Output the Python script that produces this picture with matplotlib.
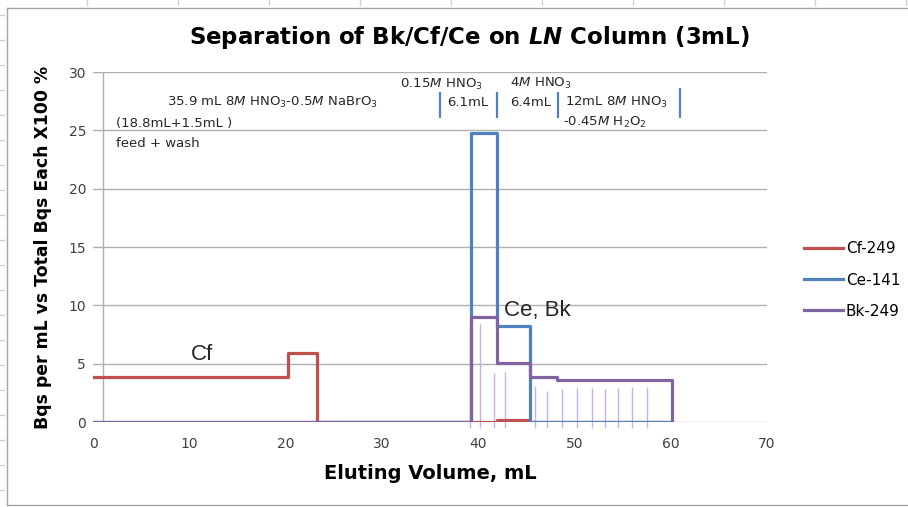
import matplotlib
matplotlib.use("Agg")
import matplotlib.pyplot as plt
from matplotlib.lines import Line2D

plt.rcParams['font.family'] = ['DejaVu Sans']
plt.rcParams['mathtext.fontset'] = 'dejavusans'

# step data (x = start of each step, steps-post)
cf_x = [0, 20.3, 23.3, 42.0, 45.4, 60.1]
cf_y = [3.9, 5.9, 0, 0.15, 0, 0]
ce_x = [0, 39.3, 42.0, 45.4, 60.1]
ce_y = [0, 24.8, 8.2, 0, 0]
bk_x = [0, 39.3, 42.0, 45.4, 48.2, 60.1]
bk_y = [0, 9.0, 5.1, 3.9, 3.6, 0]

# thin Bk bars
bar_x = [39.15, 40.2, 41.6, 42.8, 45.9, 47.2, 48.7, 50.3, 51.8, 53.2, 54.5, 56.0, 57.5]
bar_top = [8.4, 8.4, 4.2, 4.3, 3.1, 2.7, 2.8, 2.9, 2.9, 2.8, 2.9, 3.0, 3.0]

# eluent fraction markers
mark_x = [36.0, 41.95, 48.3, 61.0]
mark_lo = [26.1, 26.1, 26.1, 26.1]
mark_hi = [28.3, 28.3, 28.3, 28.6]

red = '#c0504d'
blue = '#4f81bd'
purple = '#8064a2'
txt = '#262626'

fig = plt.figure(figsize=(9.08, 5.07), dpi=100)
ax = fig.add_axes([93/908, 1-422/507, 674/908, 350/507])

ax.set_xlim(0, 70)
ax.set_ylim(0, 30)
ax.set_yticks(range(0, 31, 5))
ax.set_xticks(range(0, 71, 10))
for s in ax.spines.values():
    s.set_visible(False)
ax.tick_params(length=0, labelsize=10, colors='#404040')
ax.tick_params(axis='x', pad=11)
ax.tick_params(axis='y', pad=5)
for v in range(0, 31, 5):
    ax.axhline(v, color='#b0b0b0', lw=1, zorder=0)
ax.axvline(1.05, color='#b0b0b0', lw=1, zorder=0)

ax.vlines(bar_x, -0.5, bar_top, color='#c8b0e6', lw=1, zorder=2, clip_on=False)

ax.plot(cf_x, cf_y, drawstyle='steps-post', color=red, lw=2.3, label='Cf-249', zorder=3)
ax.plot(ce_x, ce_y, drawstyle='steps-post', color=blue, lw=2.3, label='Ce-141', zorder=4)
ax.plot(bk_x, bk_y, drawstyle='steps-post', color=purple, lw=2.3, label='Bk-249', zorder=5)

ax.vlines(mark_x, mark_lo, mark_hi, color=blue, lw=1.6, zorder=3, clip_on=False)

fs = 9.5
ax.text(7.7, 27.35, r'35.9 mL 8$\it{M}$ HNO$_3$-0.5$\it{M}$ NaBrO$_3$', fontsize=fs, va='center', color=txt)
ax.text(2.4, 25.6, '(18.8mL+1.5mL )', fontsize=fs, va='center', color=txt)
ax.text(2.4, 23.9, 'feed + wash', fontsize=fs, va='center', color=txt)
ax.text(31.9, 28.9, r'0.15$\it{M}$ HNO$_3$', fontsize=fs, va='center', color=txt)
ax.text(36.8, 27.35, '6.1mL', fontsize=fs, va='center', color=txt)
ax.text(43.3, 29.0, r'4$\it{M}$ HNO$_3$', fontsize=fs, va='center', color=txt)
ax.text(43.3, 27.35, '6.4mL', fontsize=fs, va='center', color=txt)
ax.text(49.0, 27.4, r'12mL 8$\it{M}$ HNO$_3$', fontsize=fs, va='center', color=txt)
ax.text(48.8, 25.7, r'-0.45$\it{M}$ H$_2$O$_2$', fontsize=fs, va='center', color=txt)
ax.text(42.7, 9.6, 'Ce, Bk', fontsize=16, va='center', family='Liberation Sans', color=txt)
ax.text(10.2, 5.8, 'Cf', fontsize=16, va='center', family='Liberation Sans', color=txt)

fig.text(469/908, 1-38/507, r'Separation of Bk/Cf/Ce on $\mathbfit{LN}$ Column (3mL)',
         fontsize=16.5, fontweight='bold', ha='center', va='center')
ax.set_xlabel('Eluting Volume, mL', fontsize=14, fontweight='bold', labelpad=9)
ax.set_ylabel('Bqs per mL vs Total Bqs Each X100 %', fontsize=12.4, fontweight='bold', labelpad=12)

fig.legend(loc='center left', bbox_to_anchor=(790/908, 1-280/507), frameon=False,
           fontsize=11, handlelength=2.6, handletextpad=0.15, labelspacing=1.05)

# chart frame
fc = '#a6a6a6'
fig.add_artist(Line2D([7/908, 1], [1-8/507, 1-8/507], color=fc, lw=1))
fig.add_artist(Line2D([7/908, 7/908], [1-8/507, 1-505/507], color=fc, lw=1))
fig.add_artist(Line2D([7/908, 1], [1-505/507, 1-505/507], color=fc, lw=1))
for yy in range(15, 505, 25):
    fig.add_artist(Line2D([0, 4/908], [1-yy/507, 1-yy/507], color='#d0d0d0', lw=1))
for xx in range(87, 908, 91):
    fig.add_artist(Line2D([xx/908, xx/908], [1, 1-5/507], color='#d0d0d0', lw=1))

fig.savefig('out.png', dpi=100)
